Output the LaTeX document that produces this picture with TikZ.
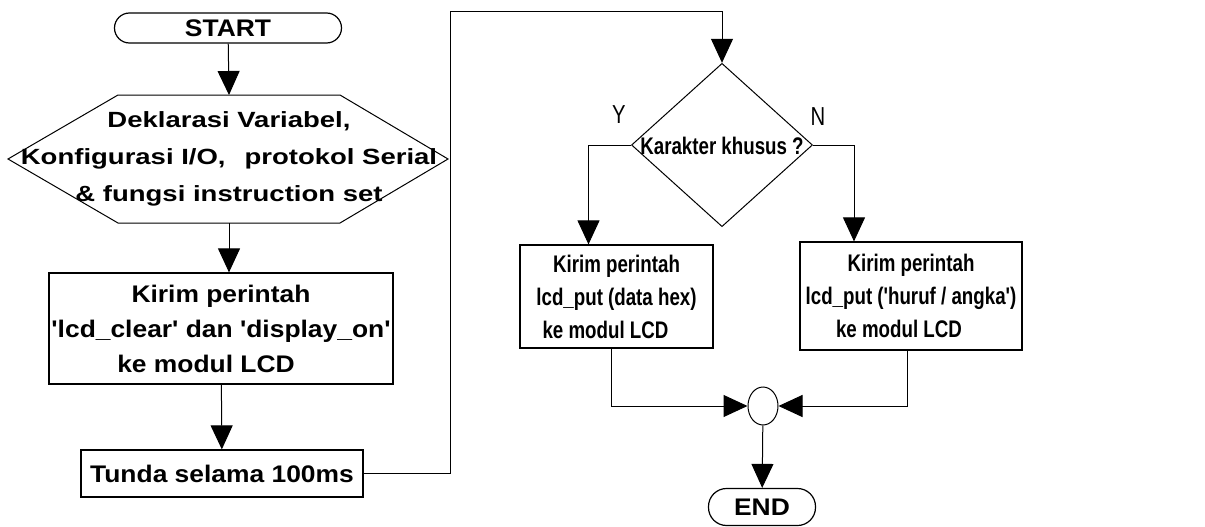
\documentclass[tikz,border=0pt]{standalone}
\usepackage{fontspec}
\setmainfont{Liberation Sans}
\newfontfamily\lfont[FakeStretch=1.1]{Liberation Sans}
\newfontfamily\hfont[FakeStretch=1.25]{Liberation Sans}
\newfontfamily\rfont[FakeStretch=0.78]{Liberation Sans}
\usetikzlibrary{arrows.meta,shapes.geometric}

\tikzset{
  flow/.style={line width=1pt,-{Triangle[length=24pt,width=22pt]}},
  link/.style={line width=1pt},
  term/.style={draw,line width=1.2pt,inner sep=0pt,font={\lfont\fontsize{24}{30}\selectfont\bfseries}},
  cmdbox/.style={draw,line width=1.2pt,inner sep=0pt,align=center,font={\lfont\fontsize{24}{35}\selectfont\bfseries}},
  cmdboxr/.style={draw,line width=1.2pt,inner sep=0pt,align=center,font={\rfont\fontsize{24}{33}\selectfont\bfseries}},
  prep/.style={inner sep=0pt,align=center,font={\hfont\fontsize{22}{37}\selectfont\bfseries}},
  decision/.style={draw,diamond,line width=1pt,inner sep=0pt,font={\rfont\fontsize{24}{30}\selectfont\bfseries}},
  answer/.style={inner sep=0pt,font={\rfont\fontsize{26}{30}\selectfont}}
}

\begin{document}
\begin{tikzpicture}[x=1pt,y=-1pt]
\useasboundingbox (0,0) rectangle (1205,527);

% nodes
\node[term,rounded corners=15pt,minimum width=227pt,minimum height=30pt] (start) at (228,28) {START};
\node[prep] (init) at (229,159)
  {Deklarasi Variabel,\\Konfigurasi I/O,\ \ \,protokol Serial\\\& fungsi instruction set};
\node[cmdbox,minimum width=344pt,minimum height=111pt] (clear) at (221,328.5)
  {Kirim perintah\\'lcd\_clear' dan 'display\_on'\\ke modul LCD\hspace*{30pt}};
\node[cmdbox,minimum width=282pt,minimum height=47pt] (delay) at (222,473.5) {Tunda selama 100ms};
\node[decision,minimum width=181pt,minimum height=124pt] (check) at (722,145)
  {\smash{\raisebox{-9pt}{Karakter khusus ?}}};
\node[answer] (yes) at (619,115) {Y};
\node[answer] (no) at (818,117) {N};
\node[cmdboxr,minimum width=193pt,minimum height=103pt] (hex) at (616.5,296.5)
  {Kirim perintah\\lcd\_put (data hex)\\ke modul LCD\hspace*{22pt}};
\node[cmdboxr,minimum width=222pt,minimum height=108pt] (char) at (911,296)
  {Kirim perintah\\lcd\_put ('huruf / angka')\\ke modul LCD\hspace*{24pt}};
\node[draw,ellipse,line width=1pt,inner sep=0pt,minimum width=30pt,minimum height=38pt] (join) at (763,406) {};
\node[term,rounded corners=18pt,minimum width=107pt,minimum height=37pt] (end) at (762,507) {END};
\coordinate (loop) at (450,12);

% hexagon outline
\draw[line width=1pt] ([shift={(-111,-64)}]init.center) -- ([shift={(111,-64)}]init.center)
  -- ([shift={(219,0)}]init.center) -- ([shift={(111,64)}]init.center)
  -- ([shift={(-111,64)}]init.center) -- ([shift={(-221,0)}]init.center) -- cycle;

% arrows
\draw[flow] (start) -- ([yshift=64pt]init.center);
\draw[flow] ([yshift=-64pt]init.center) -- (clear.north -| init.center);
\draw[flow] (clear) -- (delay);
\draw[link] (delay.east) -| (loop);
\draw[flow] (loop) -| (check.north);
\draw[flow] (check.west) -| ([xshift=-28pt]hex.north);
\draw[flow] (check.east) -| ([xshift=-57pt]char.north);
\draw[flow] ([xshift=-5pt]hex.south) |- (join.west);
\draw[flow] ([xshift=-4pt]char.south) |- (join.east);
\draw[flow] (join) -- (end);
\end{tikzpicture}
\end{document}
